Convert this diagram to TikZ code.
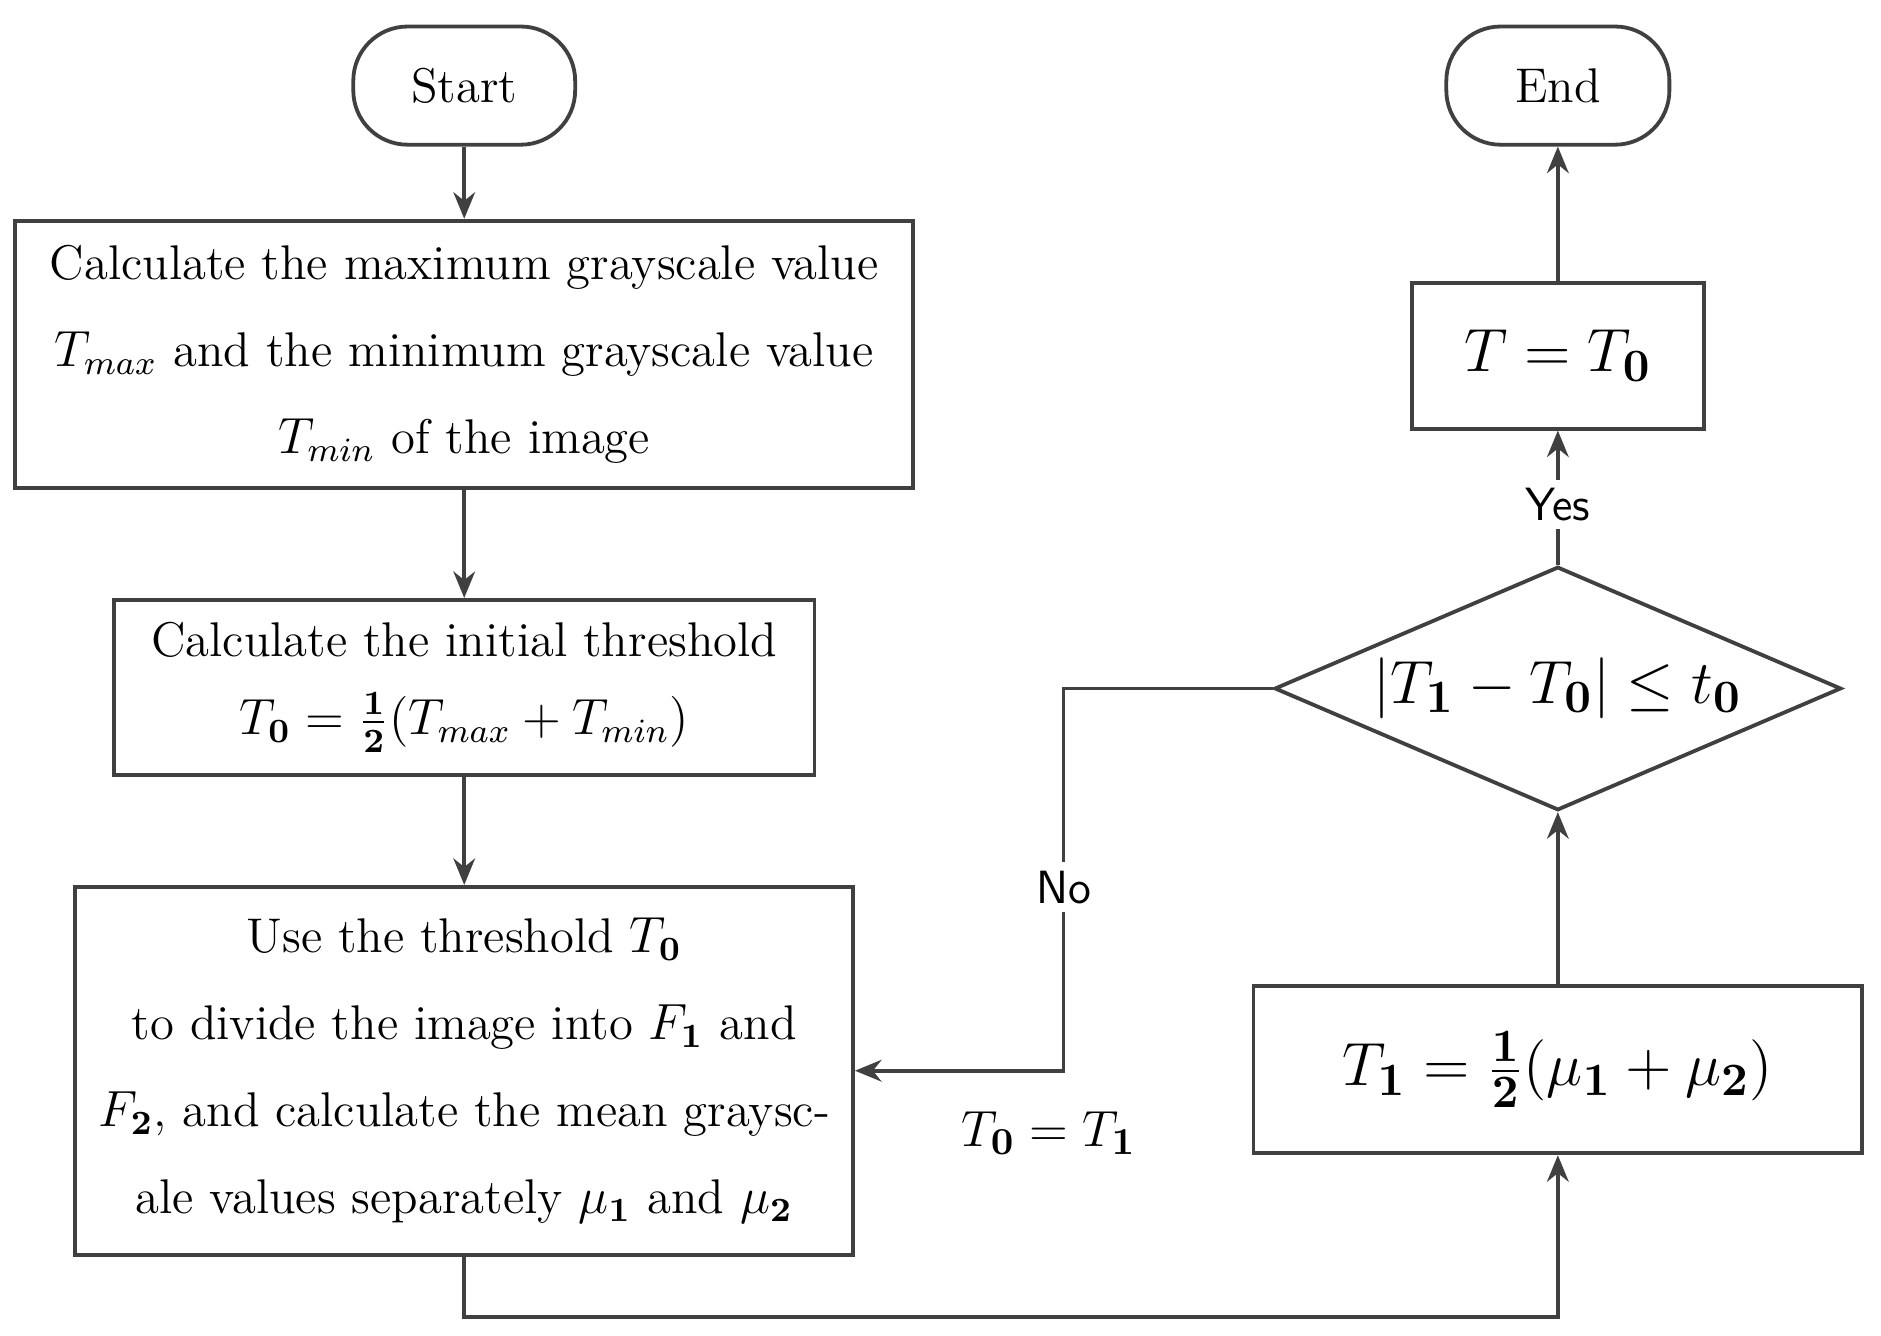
\documentclass[tikz,border=0pt]{standalone}
\usetikzlibrary{shapes.geometric,arrows.meta}
\begin{document}
\begin{tikzpicture}[x=0.1mm,y=-0.1mm,
  box/.style={draw=black!75,line width=0.9pt,align=center,inner sep=0pt,font=\fontsize{11.5}{20.5}\selectfont},
  term/.style={box,rounded corners=4.5mm},
  ar/.style={draw=black!75,line width=0.9pt,-{Stealth[length=2.2mm,width=1.8mm]}},
  ln/.style={draw=black!75,line width=0.9pt},
  lab/.style={font=\sffamily\fontsize{11}{13}\selectfont}]
\useasboundingbox (0,0) rectangle (1560,1108);
\node[term,minimum width=18.4mm,minimum height=9.8mm] (start) at (385,71) {Start};
\node[term,minimum width=18.5mm,minimum height=9.8mm] (end) at (1292,71) {End};
\node[box,minimum width=74.5mm,minimum height=22.2mm] (b1) at (385,294) {Calculate the maximum grayscale value\\ $T_{max}$ and the minimum grayscale value\\ $T_{min}$ of the image};
\node[box,minimum width=58.1mm,minimum height=14.5mm] (b2) at (385,570) {Calculate the initial threshold\\[-2pt] $T_{\mathbf{0}}=\frac{\mathbf{1}}{\mathbf{2}}(T_{max}+T_{min})$};
\node[box,minimum width=64.5mm,minimum height=30.5mm] (b3) at (385,888) {Use the threshold $T_{\mathbf{0}}$\\ to divide the image into $F_{\mathbf{1}}$ and\\ $F_{\mathbf{2}}$, and calculate the mean graysc-\\ ale values separately $\mu_{\mathbf{1}}$ and $\mu_{\mathbf{2}}$};
\node[box,minimum width=24.2mm,minimum height=12.1mm,font=\fontsize{15}{18}\selectfont] (tt) at (1292,295) {$T=T_{\mathbf{0}}$};
\node[box,diamond,aspect=2.33,minimum width=47mm,minimum height=20.2mm,font=\fontsize{15}{18}\selectfont] (d) at (1292,571) {$|T_{\mathbf{1}}-T_{\mathbf{0}}|\le t_{\mathbf{0}}$};
\node[box,minimum width=50.5mm,minimum height=13.9mm,font=\fontsize{15}{18}\selectfont] (t1) at (1292,887) {$T_{\mathbf{1}}=\frac{\mathbf{1}}{\mathbf{2}}(\mu_{\mathbf{1}}+\mu_{\mathbf{2}})$};
\coordinate (c1) at (385,1092);
\coordinate (c2) at (1292,1092);
\coordinate (c3) at (882,571);
\coordinate (c4) at (882,888);
\draw[ar] (start) -- (b1);
\draw[ar] (b1) -- (b2);
\draw[ar] (b2) -- (b3);
\draw[ar] (b3.south) -- (c1) -- (c2) -- (t1.south);
\draw[ar] (t1) -- (d.south);
\draw[ar] (d.north) -- node[lab,fill=white,inner sep=2pt,pos=0.45] (yes) {Yes} (tt);
\draw[ar] (tt) -- (end);
\draw[ar] (d.west) -- (c3) -- node[lab,fill=white,inner sep=2pt,pos=0.52] (no) {No} (c4) -- (b3.east);
\node[font=\fontsize{13}{16}\selectfont] (lt) at (870,940) {$T_{\mathbf{0}}=T_{\mathbf{1}}$};
\end{tikzpicture}
\end{document}
